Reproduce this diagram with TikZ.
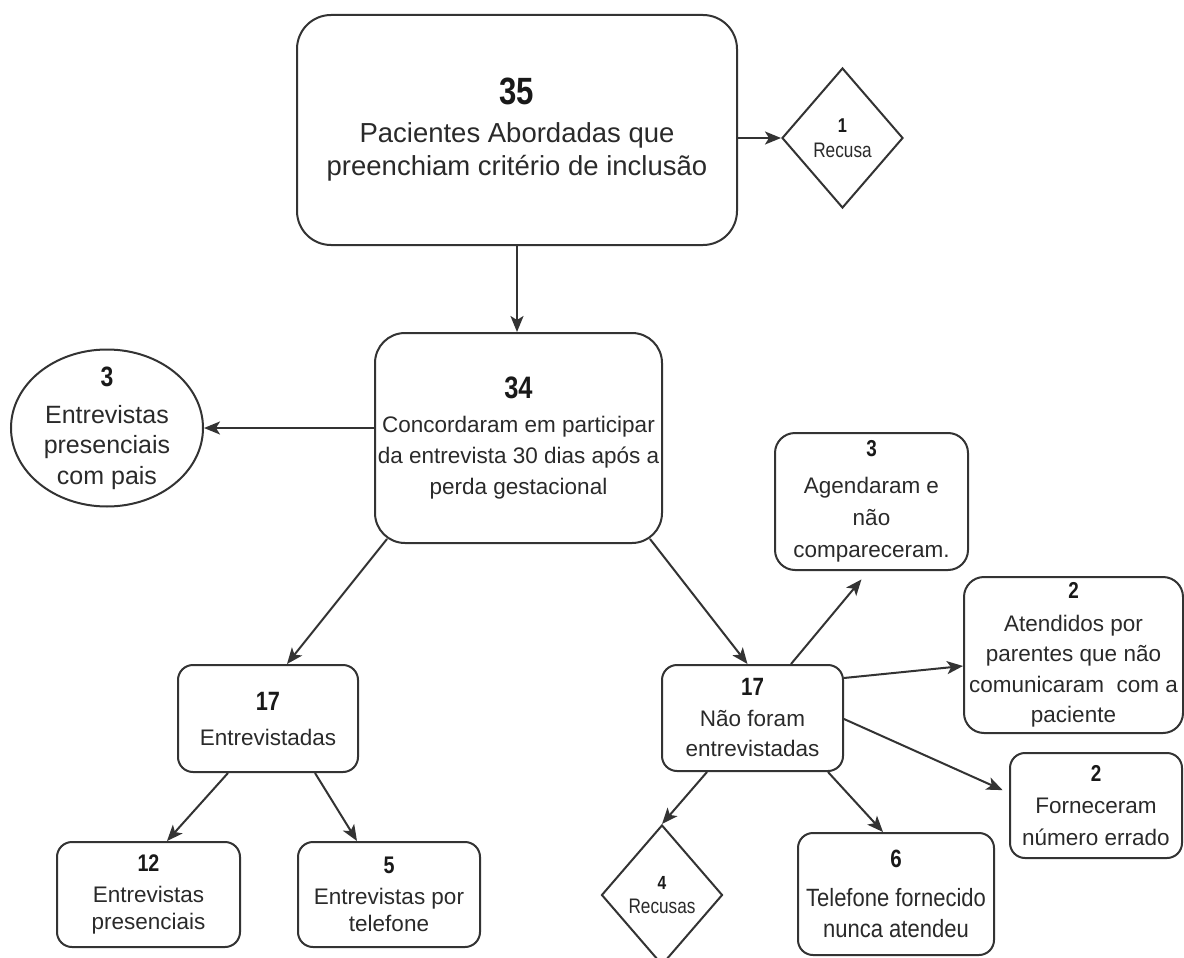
\documentclass[tikz,border=0pt]{standalone}
\usepackage{fontspec}
\setmainfont{Liberation Sans}
\newfontfamily\narrowfont[FakeStretch=0.82]{Liberation Sans}
\newfontfamily\tallfont[FakeStretch=0.88]{Liberation Sans}
\usetikzlibrary{arrows.meta,shapes.geometric}
\definecolor{linegray}{HTML}{333333}
\definecolor{textgray}{HTML}{2A2A2A}
% bold condensed count on top of each box
\newcommand{\nbr}[2]{{\narrowfont\bfseries\fontsize{#1}{#1}\selectfont\color{black!90}#2}}

\begin{document}
\begin{tikzpicture}[x=1pt,y=-1pt,
  box/.style={draw=linegray, line width=2pt, rounded corners=15pt, align=center, inner sep=0pt, text=textgray},
  dmd/.style={draw=linegray, line width=2pt, diamond, align=center, inner sep=0pt, text=textgray, minimum width=121pt, minimum height=140pt},
  circ/.style={draw=linegray, line width=2pt, ellipse, align=center, inner xsep=0pt, inner ysep=-8pt, text=textgray},
  arr/.style={draw=linegray, line width=2pt, -{Stealth[length=16pt,width=13pt,inset=4pt]}}]
\useasboundingbox[fill=white] (0,0) rectangle (1184,958);

\node[box, rounded corners=34pt, minimum width=440pt, minimum height=230pt, font=\fontsize{27.5}{33}\selectfont] (abord) at (517,130) {\nbr{38}{35}\\[5pt]Pacientes Abordadas que\\preenchiam critério de inclusão};
\node[dmd, font=\narrowfont\fontsize{21}{25}\selectfont] (recusa) at (842.5,138) {\nbr{20}{1}\\Recusa};
\node[box, rounded corners=30pt, minimum width=287pt, minimum height=210pt, font=\fontsize{22.5}{31}\selectfont] (concord) at (518.5,438) {\nbr{31}{34}\\[3pt]Concordaram em participar\\da entrevista 30 dias após a\\perda gestacional};
\node[circ, minimum width=192pt, minimum height=157pt, font=\fontsize{25}{30.5}\selectfont] (pais) at (107,428) {\nbr{28}{3}\\[6.5pt]Entrevistas\\presenciais\\com pais};

% left branch
\node[box, minimum width=180pt, minimum height=107pt, font=\fontsize{22.5}{27}\selectfont] (entrev) at (268,718.5) {\nbr{26.5}{17}\\[8pt]Entrevistadas};
\node[box, minimum width=183pt, minimum height=105pt, font=\fontsize{22.5}{27}\selectfont] (presenc) at (148.5,894.5) {\nbr{24}{12}\\[4pt]Entrevistas\\presenciais};
\node[box, minimum width=182pt, minimum height=105pt, font=\fontsize{22.5}{27}\selectfont] (telef) at (389,894.5) {\nbr{24}{5}\\[4pt]Entrevistas por\\telefone};

% right branch
\node[box, minimum width=181pt, minimum height=106pt, font=\fontsize{22.5}{30}\selectfont] (naoentr) at (752.5,718) {\nbr{25}{17}\\[1pt]Não foram\\entrevistadas};
\node[dmd, font=\narrowfont\fontsize{21}{24}\selectfont] (recusas) at (662,895) {\nbr{19}{4}\\Recusas};
\node[box, minimum width=196pt, minimum height=122pt, font=\tallfont\fontsize{25}{31}\selectfont] (nunca) at (896,894) {\nbr{25}{6}\\[8pt]Telefone fornecido\\nunca atendeu};
\node[box, rounded corners=20pt, minimum width=193pt, minimum height=137pt, font=\fontsize{22.5}{32}\selectfont] (agend) at (871.5,501.5) {\nbr{23}{3}\\[5pt]Agendaram e\\não\\compareceram.};
\node[box, rounded corners=20pt, minimum width=219pt, minimum height=156pt, font=\fontsize{22.5}{30.5}\selectfont] (atend) at (1073.5,655) {\nbr{23}{2}\\[2pt]Atendidos por\\parentes que não\\comunicaram\ \ com a\\paciente};
\node[box, minimum width=172pt, minimum height=105pt, font=\fontsize{22.5}{32}\selectfont] (fornec) at (1096,805.5) {\nbr{23}{2}\\[0pt]Forneceram\\número errado};

\draw[arr] (abord.south) -- (abord.south |- concord.north);
\draw[arr] (abord.east |- recusa.west) -- (recusa.west);
\draw[arr] ([yshift=10pt]concord.west) -- (pais.east);
\draw[arr] ([xshift=13pt,yshift=5pt]concord.south west) -- ([xshift=19pt]entrev.north);
\draw[arr] ([xshift=-13pt,yshift=5pt]concord.south east) -- ([xshift=-5pt]naoentr.north);
\draw[arr] ([xshift=-40pt]entrev.south) -- ([xshift=18.5pt]presenc.north);
\draw[arr] ([xshift=47pt]entrev.south) -- ([xshift=-32pt]telef.north);
\draw[arr] ([xshift=-45.5pt]naoentr.south) -- (recusas.north);
\draw[arr] ([xshift=75.5pt]naoentr.south) -- ([xshift=-13pt]nunca.north);
\draw[arr, shorten >=11pt] ([xshift=38.5pt]naoentr.north) -- ([xshift=-3pt]agend.south);
\draw[arr] ([yshift=-14pt]naoentr.north east) -- ([yshift=-11pt]atend.west);
\draw[arr, shorten >=7pt] ([yshift=-1pt]naoentr.east) -- ([yshift=12.5pt]fornec.west);
\end{tikzpicture}
\end{document}
